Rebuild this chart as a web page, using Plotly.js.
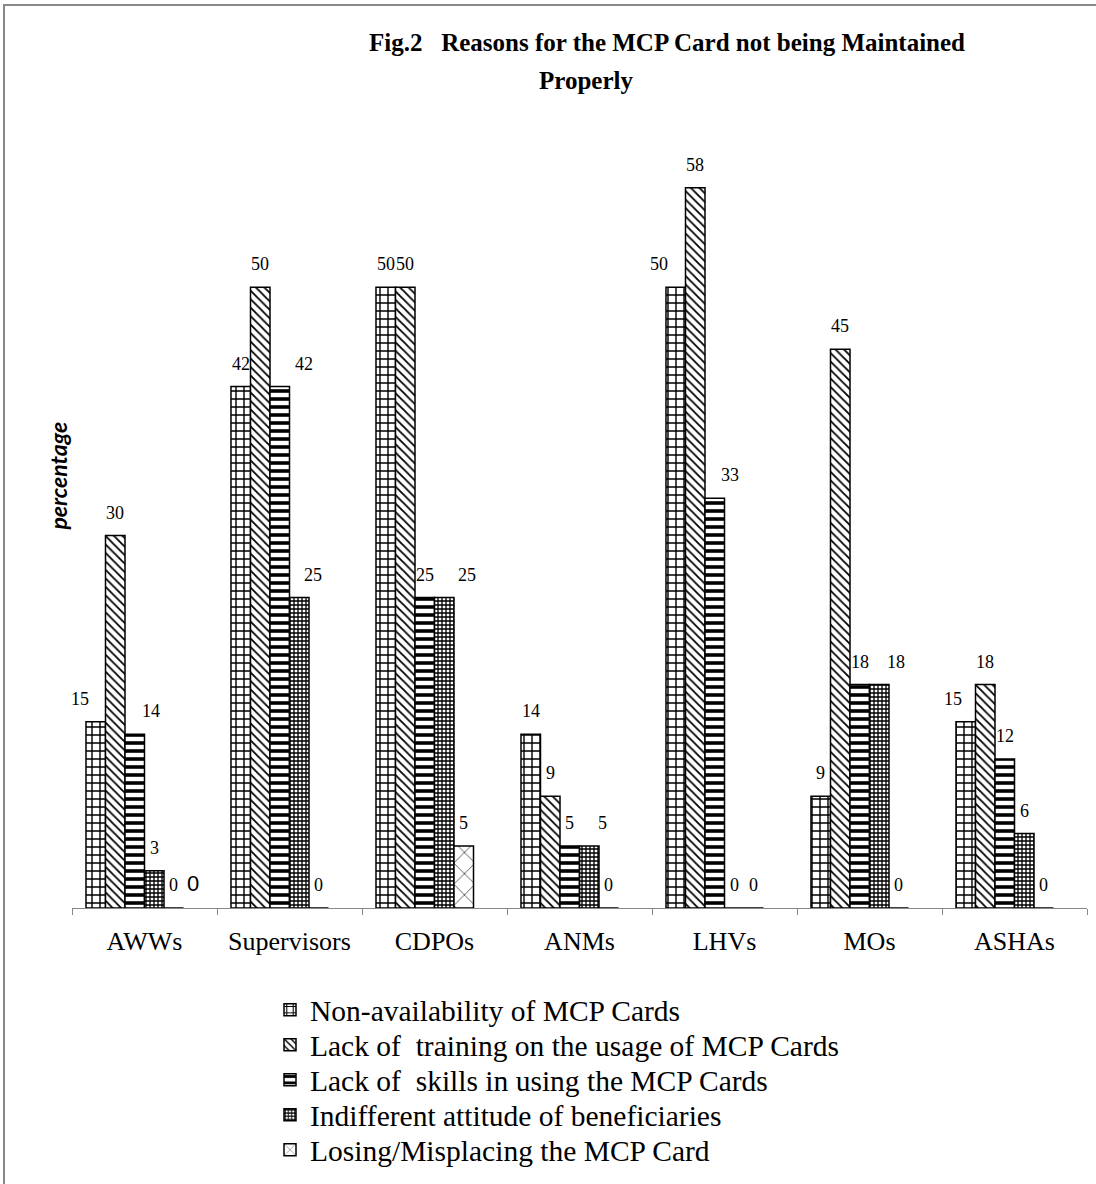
<!DOCTYPE html>
<html>
<head>
<meta charset="utf-8">
<script src="https://cdn.plot.ly/plotly-3.0.1.min.js"></script>
<style>
  html, body { margin: 0; padding: 0; background: #fff; }
  #wrap { position: relative; width: 1096px; height: 1184px; }
  #chart { position: absolute; left: 0; top: 0; width: 1096px; height: 1184px; }
  #frame { position: absolute; left: 3px; top: 4px; right: 0; bottom: 0;
           border-left: 2px solid #888; border-top: 2px solid #888; pointer-events: none; }
</style>
</head>
<body>
<div id="wrap">
  <div id="chart"></div>
  <div id="frame"></div>
</div>
<script>
// Respondent groups
const groups = ["AWWs", "Supervisors", "CDPOs", "ANMs", "LHVs", "MOs", "ASHAs"];

// Percentage citing each reason, per group
const nonAvailability = [15, 42, 50, 14, 50, 9, 15];
const lackTraining    = [30, 50, 50, 9, 58, 45, 18];
const lackSkills      = [14, 42, 25, 5, 33, 18, 12];
const indifferent     = [3, 25, 25, 5, 0, 18, 6];
const losingCard      = [0, 0, 5, 0, 0, 0, 0];
// extra column only filled for AWWs
const extraColumn     = [0, null, null, null, null, null, null];

const reasonNames = [
  "Non-availability of MCP Cards",
  "Lack of  training on the usage of MCP Cards",
  "Lack of  skills in using the MCP Cards",
  "Indifferent attitude of beneficiaries",
  "Losing/Misplacing the MCP Card"
];

const serif = "Liberation Serif, Times New Roman, serif";
const sans = "Liberation Sans, Arial, sans-serif";

// plot area geometry (px)
const W = 1096, H = 1184;
const M = { l: 72, r: 9, t: 163, b: 275 };
const plotW = W - M.l - M.r;
const plotH = H - M.t - M.b;
const BARGAP = 0.193;
const nSlots = 6;
const catPx = plotW / groups.length;
const barPx = catPx * (1 - BARGAP) / nSlots;

// sideways nudges (px) that keep neighbouring value labels apart
const labelNudge = [
  [-16, 0, 0, 0, -17, 0, -13],
  [0, 0, 0, 0, 0, 0, 0],
  [16, 24, 0, 0, 15, 0, 0],
  [0, 14, 23, 13, 0, 17, 0],
  [0, 0, 0, 0, 0, 0, 0],
  [0, 0, 0, 0, 0, 0, 0]
];

const patterns = [
  { shape: "+",  size: 8,  solidity: 0.32 },
  { shape: "\\", size: 6,  solidity: 0.3 },
  { shape: "-",  size: 8,  solidity: 0.45 },
  { shape: "+",  size: 4,  solidity: 0.55 },
  { shape: "x",  size: 15, solidity: 0.08 }
];

const seriesValues = [nonAvailability, lackTraining, lackSkills, indifferent, losingCard];
const legendIds = ["legend", "legend2", "legend3", "legend4", "legend5"];

const traces = seriesValues.map((vals, i) => ({
  type: "bar",
  name: reasonNames[i],
  legend: legendIds[i],
  x: groups,
  y: vals,
  hoverinfo: "x+y+name",
  marker: {
    color: "#fff",
    line: { color: "#000", width: 1.5 },
    pattern: Object.assign({ fgcolor: "#000", bgcolor: "#fff", fillmode: "replace" }, patterns[i])
  }
}));

traces.push({
  type: "bar",
  name: "",
  showlegend: false,
  x: groups,
  y: extraColumn,
  marker: { color: "#fff", line: { color: "#000", width: 0 } }
});

// value labels above each bar
const annotations = [];
const allSeries = seriesValues.concat([extraColumn]);
allSeries.forEach((vals, i) => {
  const dx = (i - (nSlots - 1) / 2) * barPx;
  vals.forEach((v, j) => {
    if (v === null) return;
    annotations.push({
      x: groups[j], y: v, xref: "x", yref: "y",
      text: String(v),
      showarrow: false,
      xanchor: "center", yanchor: "middle",
      xshift: dx + labelNudge[i][j], yshift: i === 5 ? 25 : 23,
      font: i === 5 ? { family: sans, size: 22, color: "#000" }
                    : { family: serif, size: 18, color: "#000" }
    });
  });
});

// second title line and rotated axis caption
annotations.push({
  text: "<b>Properly</b>",
  xref: "paper", yref: "paper",
  x: (586 - M.l) / plotW,
  y: (H - M.b - 80) / plotH,
  xanchor: "center", yanchor: "middle",
  showarrow: false,
  font: { family: serif, size: 25, color: "#000" }
});
annotations.push({
  text: "<b><i>percentage</i></b>",
  xref: "paper", yref: "paper",
  x: (58 - M.l) / plotW,
  y: (H - M.b - 477) / plotH,
  xanchor: "center", yanchor: "middle",
  textangle: -90,
  showarrow: false,
  font: { family: "Lato, Open Sans, sans-serif", size: 23, color: "#000" }
});

const layout = {
  width: W,
  height: H,
  paper_bgcolor: "#fff",
  plot_bgcolor: "#fff",
  margin: M,
  barmode: "group",
  bargap: BARGAP,
  bargroupgap: 0,
  showlegend: true,
  title: {
    text: "<b>Fig.2   Reasons for the MCP Card not being Maintained</b>",
    font: { family: serif, size: 25, color: "#000" },
    x: 667 / W,
    xanchor: "center",
    yref: "container",
    y: 1 - 42 / H,
    yanchor: "middle",
    automargin: false
  },
  annotations: annotations,
  xaxis: {
    type: "category",
    range: [-0.5, groups.length - 0.5],
    autorange: false,
    automargin: false,
    showline: true,
    linecolor: "#888",
    linewidth: 1,
    ticks: "outside",
    tickson: "boundaries",
    ticklen: 6,
    tickcolor: "#888",
    ticklabelstandoff: 10,
    tickfont: { family: serif, size: 26, color: "#000" },
    showgrid: false,
    zeroline: false
  },
  yaxis: {
    range: [0, 60],
    autorange: false,
    automargin: false,
    showticklabels: false,
    showgrid: false,
    zeroline: false,
    showline: false,
    ticks: ""
  }
};

// one legend box per reason, stacked by hand
const rowCentres = [1010, 1045, 1080, 1115, 1150];
legendIds.forEach((id, i) => {
  layout[id] = {
    x: (270 - M.l) / plotW,
    xanchor: "left",
    y: (H - M.b - rowCentres[i]) / plotH,
    yanchor: "middle",
    orientation: "v",
    font: { family: serif, size: 29.5, color: "#000" },
    itemwidth: 30,
    bgcolor: "rgba(0,0,0,0)"
  };
});

Plotly.newPlot("chart", traces, layout, { displayModeBar: false, staticPlot: true });
</script>
</body>
</html>
